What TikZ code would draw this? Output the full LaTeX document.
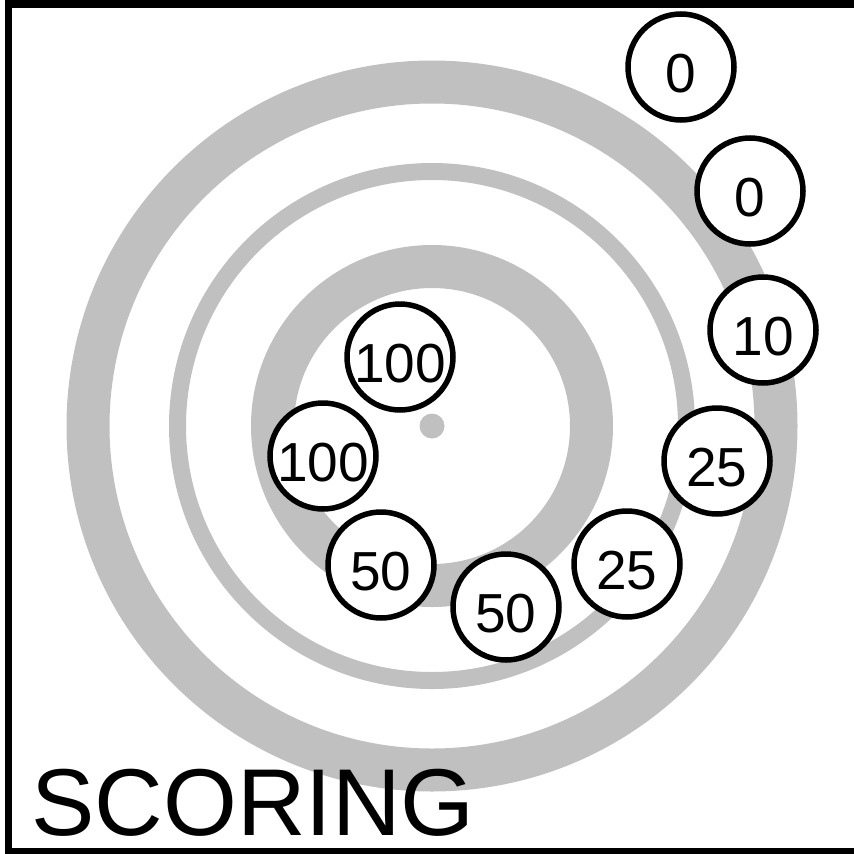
\documentclass[tikz,border=0pt]{standalone}
\usepackage{fontspec}
\setmainfont{Liberation Sans}
\definecolor{ringgray}{RGB}{192, 192, 192}
\usetikzlibrary{positioning}

\begin{document}
\begin{tikzpicture}[x=1pt, y=-1pt,
    scorebubble/.style={circle, draw=black, fill=white, line width=5.5pt,
        minimum size=106pt, inner sep=0pt, text height=51pt,
        font=\fontsize{55}{55}\selectfont}]
    \useasboundingbox (0,0) rectangle (854,854);

    % Target rings
    \coordinate (centre) at (432,426);
    \draw[ringgray, line width=43pt] (centre) circle[radius=344];
    \draw[ringgray, line width=17pt] (centre) circle[radius=254.5];
    \draw[ringgray, line width=43pt] (centre) circle[radius=159.5];
    \fill[ringgray] (centre) circle[radius=12.5];

    % Frame (open on the right)
    \draw[line width=7.5pt] (854,4) -- (8.5,4) -- (8.5,852) -- (854,852);

    % Score bubbles
    \foreach \n/\x/\y/\pts in {
        1/681/67/0,
        2/750/191/0,
        3/763/330/10,
        4/717/461/25,
        5/627/564/25,
        6/506/607/50,
        7/381/565/50,
        8/323/456/100,
        9/400/357/100} {
        \node[scorebubble] (score\n) at (\x,\y) {\pts};
    }

    % Title
    \node[anchor=base west, inner sep=0pt, font=\fontsize{95}{95}\selectfont]
        (title) at (31,835) {SCORING};
\end{tikzpicture}
\end{document}
